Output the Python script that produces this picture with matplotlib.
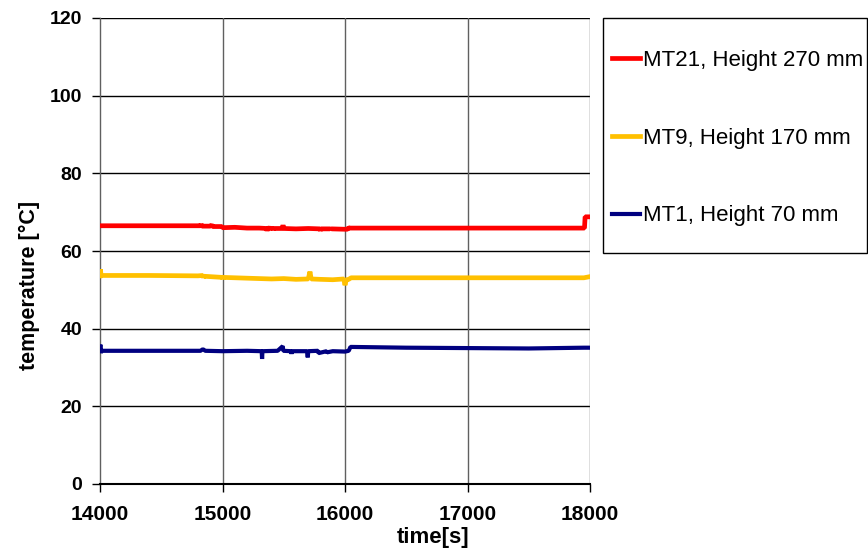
import matplotlib
matplotlib.use("Agg")
import matplotlib.pyplot as plt
from matplotlib.patches import Rectangle

plt.rcParams['font.family'] = ['Liberation Sans', 'DejaVu Sans']

# Temperature logs (time in s, temperature in °C)
mt21_time = [14000, 14820, 14826, 14832, 14900, 14912, 14920, 14995, 15000, 15100,
             15200, 15300, 15360, 15364, 15370, 15410, 15414, 15418, 15490, 15494,
             15498, 15600, 15700, 15795, 15799, 15803, 15880, 15884, 15888, 16000,
             16020, 16030, 16040, 17955, 17960, 18000]
mt21_temp = [66.5, 66.5, 66.9, 66.4, 66.4, 66.7, 66.3, 66.3, 66.0, 66.1,
             65.9, 65.9, 65.8, 65.2, 65.9, 65.8, 65.4, 65.8, 65.8, 66.7,
             65.8, 65.7, 65.8, 65.7, 65.2, 65.7, 65.7, 65.4, 65.7, 65.6,
             65.6, 66.0, 65.9, 65.9, 68.8, 68.8]

mt9_time = [14000, 14004, 14008, 14400, 14800, 14840, 14844, 14848, 15000, 15004,
            15008, 15200, 15400, 15500, 15600, 15700, 15714, 15724, 15800, 15900,
            15990, 16000, 16010, 16030, 16050, 17000, 17950, 18000]
mt9_temp = [53.6, 55.3, 53.7, 53.7, 53.6, 53.7, 53.1, 53.5, 53.2, 52.8,
            53.2, 53.0, 52.8, 52.9, 52.7, 52.8, 54.7, 52.8, 52.7, 52.6,
            52.8, 51.2, 52.6, 52.7, 53.1, 53.1, 53.1, 53.4]

mt1_time = [14000, 14003, 14006, 14010, 14820, 14840, 14860, 15000, 15200, 15320,
            15323, 15326, 15450, 15492, 15496, 15560, 15563, 15566, 15690, 15696,
            15700, 15780, 15783, 15850, 15853, 15900, 16000, 16030, 16045, 16500,
            17000, 17500, 17950, 18000]
mt1_temp = [34.3, 35.9, 33.7, 34.3, 34.3, 34.7, 34.3, 34.2, 34.3, 34.2,
            32.2, 34.2, 34.3, 35.5, 34.3, 34.2, 33.5, 34.2, 34.2, 32.6,
            34.2, 34.3, 33.7, 34.2, 33.9, 34.2, 34.1, 34.3, 35.3, 35.1,
            35.0, 34.9, 35.1, 35.1]

series = [
    (mt21_time, mt21_temp, "#FF0000", 3.4, "MT21, Height 270 mm"),
    (mt9_time, mt9_temp, "#FFC000", 3.4, "MT9, Height 170 mm"),
    (mt1_time, mt1_temp, "#000080", 3.0, "MT1, Height 70 mm"),
]

x_ticks = [14000, 15000, 16000, 17000, 18000]
y_ticks = [0, 20, 40, 60, 80, 100, 120]

W, H = 868, 552
fig = plt.figure(figsize=(W / 100, H / 100), dpi=100)
ax = fig.add_axes([100 / W, 1 - 484 / H, 490 / W, 466 / H])

handles = []
for t, v, c, w, lab in series:
    ln, = ax.plot(t, v, color=c, lw=w, solid_joinstyle='bevel', label=lab, zorder=3)
    handles.append(ln)

ax.set_xlim(14000, 18000)
ax.set_ylim(0, 120)
ax.set_xticks(x_ticks)
ax.set_yticks(y_ticks)

# horizontal grid black, vertical grid grey
for y in y_ticks[1:]:
    ax.axhline(y, color="black", lw=1.0, zorder=1)
for x in x_ticks[1:]:
    ax.axvline(x, color="#606060", lw=1.0, zorder=1)

for side in ["top", "right"]:
    ax.spines[side].set_visible(False)
ax.spines["left"].set_color("#606060")
ax.spines["left"].set_linewidth(1.0)
ax.spines["bottom"].set_color("black")
ax.spines["bottom"].set_linewidth(1.5)

ax.tick_params(axis="x", direction="out", length=6, width=1, pad=9,
               labelsize=15)
ax.tick_params(axis="y", direction="out", length=6, width=1, pad=7,
               labelsize=14)
for lbl in ax.get_xticklabels() + ax.get_yticklabels():
    lbl.set_fontweight("bold")

ax.set_xlabel("time[s]", fontsize=16, fontweight="bold")
ax.xaxis.set_label_coords(0.68, -0.092)
ax.set_ylabel("temperature [°C]", fontsize=15.5, fontweight="bold")
ax.yaxis.set_label_coords(-0.122, 0.427)

# legend panel
fig.patches.append(Rectangle((603 / W, 1 - 253 / H), 264 / W, 235 / H,
                             transform=fig.transFigure, fill=False,
                             edgecolor="black", lw=1.0))
fig.legend(handles=handles, loc="upper left",
           bbox_to_anchor=(612 / W, 1 - 50 / H), frameon=False,
           fontsize=16, handlelength=1.25, handletextpad=0.15,
           labelspacing=2.55, borderaxespad=0, borderpad=0)

fig.savefig("out.png", dpi=100)
